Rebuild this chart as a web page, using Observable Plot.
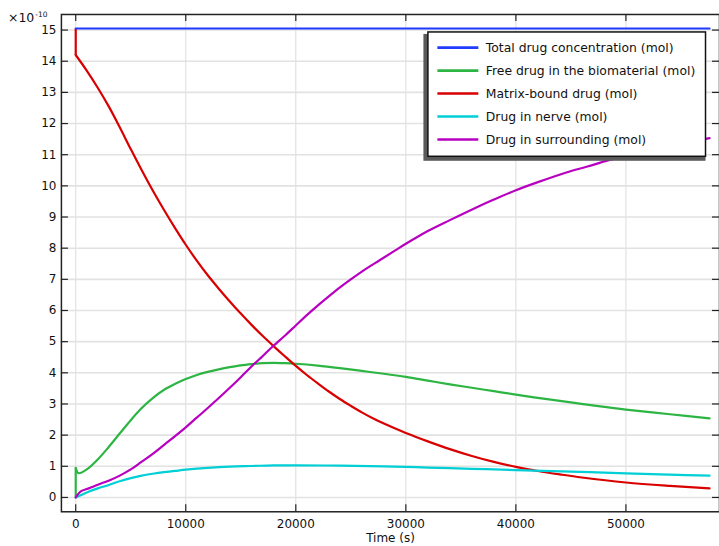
<!DOCTYPE html>
<html><head><meta charset="utf-8">
<script src="https://cdn.jsdelivr.net/npm/d3@7"></script>
<script src="https://cdn.jsdelivr.net/npm/@observablehq/plot@0.6"></script>
<style>
html,body{margin:0;padding:0;background:#fff;overflow:hidden;}
#chart svg{display:block;}
</style>
</head><body><div id="chart"></div>
<script>
// ---- data (values ×10^-10 mol; time in s) ----
const xTicks = [0, 10000, 20000, 30000, 40000, 50000];
const yTicks = [0, 1, 2, 3, 4, 5, 6, 7, 8, 9, 10, 11, 12, 13, 14, 15];
const xLabel = "Time (s)";
const yExponent = "-10";
const seriesNames = [
  "Total drug concentration (mol)",
  "Free drug in the biomaterial (mol)",
  "Matrix-bound drug (mol)",
  "Drug in nerve (mol)",
  "Drug in surrounding (mol)"
];

const totalT = [0, 57600];
const totalV = [15.05, 15.05];

const freeT = [0, 0, 250, 1000, 2000, 3000, 4000, 5000, 6000, 7000, 8000, 9000, 10000, 11000, 12000, 13000, 14000, 15000, 16000, 17000, 18000, 19000, 20000, 22000, 24000, 26000, 28000, 30000, 32000, 34000, 36000, 38000, 40000, 42500, 45000, 47500, 50000, 54000, 57600];
const freeV = [0, 0.95, 0.78, 0.90, 1.22, 1.62, 2.05, 2.48, 2.87, 3.19, 3.45, 3.64, 3.80, 3.93, 4.03, 4.11, 4.18, 4.24, 4.28, 4.31, 4.32, 4.31, 4.29, 4.23, 4.15, 4.06, 3.97, 3.87, 3.75, 3.63, 3.52, 3.41, 3.30, 3.17, 3.05, 2.93, 2.82, 2.67, 2.54];

const boundT = [0, 0, 1000, 2000, 3000, 4000, 5000, 6000, 7000, 8000, 9000, 10000, 11000, 12000, 13000, 14000, 15000, 16000, 17000, 18000, 19000, 20000, 21000, 22000, 23000, 24000, 25000, 26000, 27000, 28000, 30000, 32000, 34000, 36000, 38000, 40000, 42000, 44000, 46000, 50000, 54000, 57600];
const boundV = [15.05, 14.2, 13.70, 13.15, 12.55, 11.88, 11.18, 10.50, 9.85, 9.24, 8.66, 8.11, 7.60, 7.13, 6.70, 6.29, 5.90, 5.53, 5.18, 4.85, 4.53, 4.22, 3.93, 3.66, 3.40, 3.16, 2.94, 2.73, 2.54, 2.37, 2.07, 1.80, 1.55, 1.33, 1.14, 0.98, 0.85, 0.74, 0.64, 0.48, 0.37, 0.29];

const nerveT = [0, 500, 1000, 2000, 3000, 4000, 5000, 6000, 7000, 8000, 9000, 10000, 12000, 14000, 16000, 18000, 20000, 24000, 28000, 32000, 36000, 40000, 45000, 50000, 54000, 57600];
const nerveV = [0, 0.08, 0.16, 0.29, 0.40, 0.52, 0.62, 0.70, 0.76, 0.81, 0.85, 0.89, 0.95, 0.99, 1.01, 1.03, 1.03, 1.02, 1.00, 0.96, 0.92, 0.88, 0.83, 0.77, 0.73, 0.70];

const surrT = [0, 430, 1000, 1630, 2250, 3150, 4000, 5000, 6000, 7000, 8000, 9000, 10000, 11000, 12000, 13000, 14000, 15000, 16000, 17000, 17820, 19000, 20000, 21000, 22200, 23500, 24930, 26000, 27650, 29000, 30000, 32000, 34000, 36120, 38000, 40000, 42000, 44590, 46500, 48220, 50000, 52000, 55000, 57600];
const surrV = [0, 0.19, 0.27, 0.35, 0.44, 0.56, 0.70, 0.90, 1.15, 1.40, 1.68, 1.96, 2.25, 2.56, 2.87, 3.19, 3.52, 3.86, 4.21, 4.54, 4.82, 5.19, 5.52, 5.85, 6.22, 6.60, 6.98, 7.25, 7.62, 7.92, 8.14, 8.55, 8.90, 9.26, 9.56, 9.86, 10.12, 10.43, 10.62, 10.80, 10.96, 11.12, 11.35, 11.53];

// ---- styling ----
const colors = ["#1f3cff", "#2db543", "#d90000", "#00cfd6", "#b800c0"];
const seriesT = [totalT, freeT, boundT, nerveT, surrT];
const seriesV = [totalV, freeV, boundV, nerveV, surrV];

// rows for the smooth part, and for the instant jumps at t = 0 (drawn straight)
const rows = [], jumps = [];
seriesNames.forEach((name, i) => {
  const T = seriesT[i], V = seriesV[i];
  const hasJump = T.length > 2 && T[0] === T[1];
  T.forEach((t, j) => {
    if (hasJump && j <= 1) jumps.push({t, v: V[j], s: name});
    if (!hasJump || j >= 1) rows.push({t, v: V[j], s: name});
  });
});

const W = 720, H = 546, mL = 61, mR = 0, mT = 14, mB = 34;
const innerW = W - mL - mR, innerH = H - mT - mB;
const tick = 7;

const chart = Plot.plot({
  width: W, height: H,
  marginLeft: mL, marginRight: mR, marginTop: mT, marginBottom: mB,
  style: {fontFamily: "DejaVu Sans", fontSize: "12px", color: "#111", background: "#fff"},
  x: {domain: [-1300, 58503]},
  y: {domain: [-0.46, 15.5]},
  color: {domain: seriesNames, range: colors},
  marks: [
    Plot.gridX(xTicks, {stroke: "#dcdcdc", strokeOpacity: 1, strokeWidth: 1}),
    Plot.gridY(yTicks, {stroke: "#e2e2e2", strokeOpacity: 1, strokeWidth: 1.6}),
    Plot.line(jumps, {x: "t", y: "v", z: "s", stroke: "s", strokeWidth: 2.2, strokeLinecap: "butt"}),
    Plot.line(rows, {x: "t", y: "v", z: "s", stroke: "s", strokeWidth: 2.2, curve: "catmull-rom"}),
    Plot.frame({stroke: "#222", strokeWidth: 1.5}),
    Plot.tickY(yTicks, {y: d => d, insetRight: innerW - tick, stroke: "#222", strokeWidth: 1.2}),
    Plot.tickY(yTicks, {y: d => d, insetLeft: innerW - tick, stroke: "#222", strokeWidth: 1.2}),
    Plot.tickX(xTicks, {x: d => d, insetTop: innerH - tick, stroke: "#222", strokeWidth: 1.2}),
    Plot.tickX(xTicks, {x: d => d, insetBottom: innerH - tick, stroke: "#222", strokeWidth: 1.2}),
    Plot.axisX(xTicks, {tickSize: 0, tickPadding: 8, label: null, tickFormat: d => String(d), fontSize: 12}),
    Plot.axisY(yTicks, {tickSize: 0, tickPadding: 5, label: null, fontSize: 12}),
    Plot.text([xLabel], {frameAnchor: "bottom", dy: 30, fontSize: 12, fill: "#111"})
  ]
});
document.getElementById("chart").appendChild(chart);

// exponent label
const svg = d3.select(chart);
const ex = svg.append("text").attr("x", 8).attr("y", 22.5).attr("fill", "#111")
  .attr("text-anchor", "start")
  .style("font-family", "DejaVu Sans").style("font-size", "12.5px");
ex.append("tspan").text("×10");
ex.append("tspan").attr("dy", -5.5).attr("dx", 1).style("font-size", "7.5px").text(yExponent);

// legend
const lg = svg.append("g").style("font-family", "DejaVu Sans").attr("text-anchor", "start");
lg.append("rect").attr("x", 424).attr("y", 34).attr("width", 282.5).attr("height", 127).attr("fill", "#5a5a5a");
lg.append("rect").attr("x", 428.5).attr("y", 32).attr("width", 278).attr("height", 124.5)
  .attr("fill", "#fff").attr("stroke", "#111").attr("stroke-width", 1.5);
seriesNames.forEach((name, i) => {
  const y = 47.7 + 23 * i;
  lg.append("line").attr("x1", 438).attr("x2", 479).attr("y1", y).attr("y2", y)
    .attr("stroke", colors[i]).attr("stroke-width", 2.6);
  lg.append("text").attr("x", 486.5).attr("y", y).attr("dy", "0.35em")
    .attr("fill", "#111").style("font-size", "12.4px").text(name);
});
</script>
</body></html>
